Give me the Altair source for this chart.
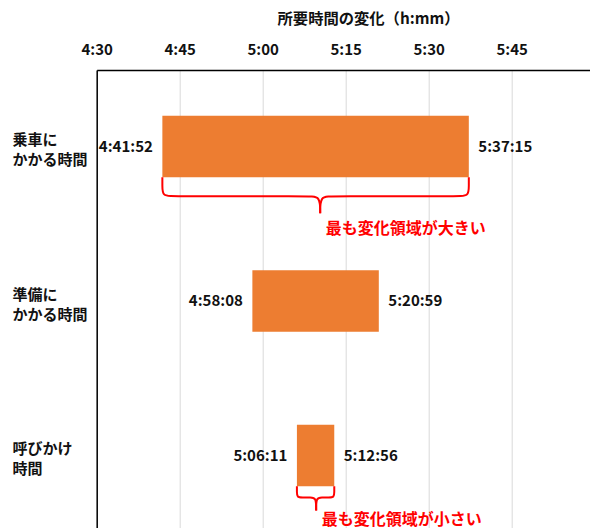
import json
import altair as alt
import pandas as pd

# ---------------- data ----------------
categories = ["乗車に\nかかる時間", "準備に\nかかる時間", "呼びかけ\n時間"]
start_times = ["4:41:52", "4:58:08", "5:06:11"]
end_times = ["5:37:15", "5:20:59", "5:12:56"]
tick_labels = ["4:30", "4:45", "5:00", "5:15", "5:30", "5:45"]
axis_title = "所要時間の変化（h:mm）"
note_rows = [0, 2]
note_texts = ["最も変化領域が大きい", "最も変化領域が小さい"]


def to_min(s):
    parts = [int(p) for p in s.split(":")]
    while len(parts) < 3:
        parts.append(0)
    return parts[0] * 60 + parts[1] + parts[2] / 60.0


# ---------------- layout constants ----------------
FONT = "Noto Sans CJK JP"
ORANGE = "#ED7D31"
RED = "#FF0000"
INK = "#111111"
W, H = 493.3, 458
PAD_L, PAD_T = 96.7, 70
PX_PER_MIN = 83 / 15
STEP = 154.5
X0 = to_min(tick_labels[0])
x_domain = [X0, X0 + W / PX_PER_MIN]
y_start = -76.5 / STEP
y_domain = [y_start, y_start + H / STEP]
HALF = 30.75 / STEP

# ---------------- tables ----------------
bars_df = pd.DataFrame({
    "idx": list(range(len(categories))),
    "cat": categories,
    "start": [to_min(s) for s in start_times],
    "end": [to_min(s) for s in end_times],
    "start_label": start_times,
    "end_label": end_times,
})

brace_rows = []
note_rows_df = []
for r, txt in zip(note_rows, note_texts):
    s = bars_df.loc[r, "start"]
    e = bars_df.loc[r, "end"]
    w = (e - s) * PX_PER_MIN
    arm = min(19.0, 0.3 * w)
    tip = min(17.0, 0.35 * w)
    rad = min(11.0, 0.15 * w)
    wm = 0.515 * w
    yb = r + HALF
    left = [(0, 0), (0, arm - rad), (0, arm), (rad, arm), (wm - rad, arm), (wm, arm), (wm, arm + tip)]
    right = [(wm, arm + tip), (wm, arm), (wm + rad, arm), (w - rad, arm), (w, arm), (w, arm - rad), (w, 0)]
    for part, pts in (("L", left), ("R", right)):
        for k, (px, py) in enumerate(pts):
            brace_rows.append({
                "brace": f"{r}{part}",
                "ord": k,
                "x": s + px / PX_PER_MIN,
                "y": yb + py / STEP,
            })
    note_rows_df.append({
        "x": s + wm / PX_PER_MIN,
        "y": yb + (arm + tip + 0.85 * arm) / STEP,
        "text": txt,
    })
brace_df = pd.DataFrame(brace_rows)
notes_df = pd.DataFrame(note_rows_df)

# ---------------- scales & axes ----------------
tick_values = [to_min(t) for t in tick_labels]
label_lines = [c.split("\n") for c in categories]

x_scale = alt.Scale(domain=x_domain, nice=False, zero=False)
y_scale = alt.Scale(domain=y_domain, nice=False, zero=False, reverse=True)

x_axis = alt.Axis(
    orient="top",
    values=tick_values,
    labelExpr="floor(datum.value/60) + ':' + (round(datum.value%60) < 10 ? '0' : '') + round(datum.value%60)",
    labelFont=FONT, labelFontSize=15, labelFontWeight="bold", labelColor=INK,
    labelFlush=False, labelOverlap=False, labelBaseline="middle", labelPadding=21,
    ticks=False, tickSize=0,
    grid=True, gridColor="#D9D9D9", gridWidth=1,
    domain=True, domainColor="#000000", domainWidth=1.5,
    title=axis_title, titleFont=FONT, titleFontSize=15.3, titleFontWeight="bold",
    titleColor=INK, titleX=368 - PAD_L, titleY=18.5 - PAD_T,
    titleAlign="center", titleBaseline="middle",
)
y_axis = alt.Axis(
    values=list(range(len(categories))),
    labelExpr=json.dumps(label_lines, ensure_ascii=False) + "[datum.value]",
    labelFont=FONT, labelFontSize=15, labelFontWeight="bold", labelColor=INK,
    labelAlign="left", labelBaseline="middle", labelPadding=PAD_L - 12,
    labelLineHeight=20, labelOffset=-7, labelOverlap=False, labelBound=False,
    ticks=False, tickSize=0, grid=False,
    domain=True, domainColor="#000000", domainWidth=1.5,
    title=None,
)

# ---------------- layers ----------------
bars = alt.Chart(bars_df).transform_calculate(
    y_top=f"datum.idx - {HALF}", y_bot=f"datum.idx + {HALF}"
).mark_rect(color=ORANGE).encode(
    x=alt.X("start:Q", scale=x_scale, axis=x_axis),
    x2="end:Q",
    y=alt.Y("y_top:Q", scale=y_scale, axis=y_axis),
    y2="y_bot:Q",
)

start_text = alt.Chart(bars_df).mark_text(
    align="right", baseline="middle", dx=-9.5, font=FONT, fontSize=15,
    fontWeight="bold", color=INK,
).encode(
    x=alt.X("start:Q", scale=x_scale, axis=x_axis),
    y=alt.Y("idx:Q", scale=y_scale, axis=y_axis),
    text="start_label:N",
)

end_text = alt.Chart(bars_df).mark_text(
    align="left", baseline="middle", dx=9.5, font=FONT, fontSize=15,
    fontWeight="bold", color=INK,
).encode(
    x=alt.X("end:Q", scale=x_scale, axis=x_axis),
    y=alt.Y("idx:Q", scale=y_scale, axis=y_axis),
    text="end_label:N",
)

braces = alt.Chart(brace_df).mark_line(
    color=RED, strokeWidth=2, interpolate="basis",
).encode(
    x=alt.X("x:Q", scale=x_scale, axis=x_axis),
    y=alt.Y("y:Q", scale=y_scale, axis=y_axis),
    detail="brace:N",
    order="ord:Q",
)

notes = alt.Chart(notes_df).mark_text(
    align="left", baseline="middle", dx=5.5, font=FONT, fontSize=16,
    fontWeight="bold", color=RED,
).encode(
    x=alt.X("x:Q", scale=x_scale, axis=x_axis),
    y=alt.Y("y:Q", scale=y_scale, axis=y_axis),
    text="text:N",
)

chart = alt.layer(bars, braces, start_text, end_text, notes).properties(
    width=W, height=H,
    padding={"left": PAD_L, "top": PAD_T, "right": 0, "bottom": 0},
    autosize="none",
    background="#FFFFFF",
).configure_view(stroke=None)

chart.save("out.html", embed_options={"renderer": "svg", "actions": False})
